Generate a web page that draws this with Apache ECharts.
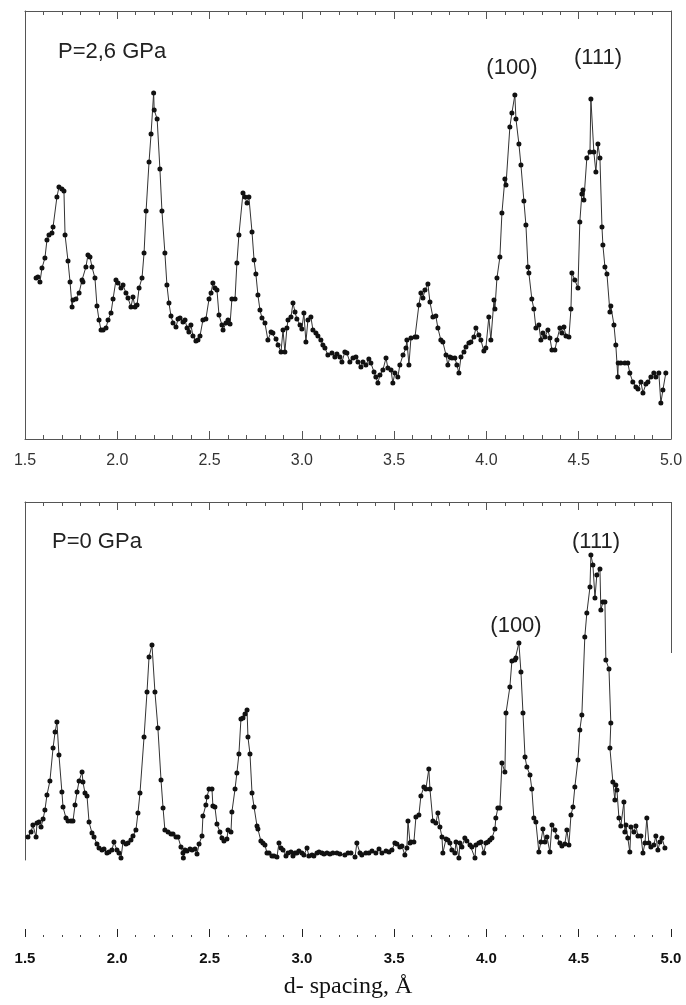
<!DOCTYPE html>
<html>
<head>
<meta charset="utf-8">
<script src="https://cdn.jsdelivr.net/npm/echarts@6/dist/echarts.min.js"></script>
<style>
html,body{margin:0;padding:0;background:#fff;}
#chart{width:686px;height:1005px;}
</style>
</head>
<body>
<div id="chart"></div>
<script>
// d-spacing (Å) and intensity (arb. units) for the two panels
var topPanel = [[1.560,161],[1.570,162],[1.581,157],[1.592,171],[1.608,181],[1.619,199],[1.630,204],[1.646,206],[1.652,212],[1.673,242],[1.684,252],[1.700,250],[1.711,248],[1.717,204],[1.733,178],[1.744,157],[1.755,132],[1.760,139],[1.776,140],[1.793,146],[1.809,159],[1.814,157],[1.830,172],[1.841,184],[1.852,182],[1.863,172],[1.879,161],[1.890,133],[1.901,119],[1.912,109],[1.923,109],[1.939,111],[1.950,119],[1.966,126],[1.977,140],[1.993,159],[2.004,156],[2.020,151],[2.031,154],[2.047,146],[2.058,141],[2.074,132],[2.085,142],[2.096,132],[2.107,134],[2.118,151],[2.134,161],[2.145,186],[2.156,228],[2.172,277],[2.183,305],[2.197,346],[2.200,329],[2.216,320],[2.231,270],[2.242,228],[2.258,186],[2.269,154],[2.280,136],[2.291,123],[2.302,116],[2.318,112],[2.329,120],[2.340,121],[2.356,117],[2.367,119],[2.378,111],[2.388,107],[2.399,114],[2.410,103],[2.426,98],[2.437,99],[2.448,103],[2.464,119],[2.480,120],[2.497,140],[2.508,146],[2.518,156],[2.529,151],[2.540,149],[2.551,124],[2.567,114],[2.573,109],[2.589,116],[2.600,119],[2.611,115],[2.621,140],[2.638,140],[2.648,176],[2.659,204],[2.681,246],[2.692,242],[2.703,236],[2.713,242],[2.730,207],[2.741,179],[2.751,165],[2.762,144],[2.773,129],[2.784,121],[2.800,116],[2.816,99],[2.833,107],[2.843,106],[2.860,100],[2.871,94],[2.887,87],[2.898,109],[2.908,87],[2.919,111],[2.925,119],[2.941,122],[2.952,136],[2.963,127],[2.973,120],[2.990,114],[3.000,110],[3.011,126],[3.022,97],[3.033,119],[3.049,122],[3.060,109],[3.076,106],[3.087,103],[3.103,99],[3.114,94],[3.125,91],[3.141,84],[3.163,86],[3.179,82],[3.190,85],[3.206,82],[3.217,77],[3.233,87],[3.244,86],[3.260,77],[3.277,81],[3.293,82],[3.304,77],[3.320,72],[3.331,77],[3.347,74],[3.363,80],[3.374,76],[3.391,67],[3.401,62],[3.412,56],[3.423,64],[3.439,69],[3.456,81],[3.466,71],[3.483,69],[3.493,56],[3.504,66],[3.520,62],[3.531,74],[3.548,84],[3.564,91],[3.569,99],[3.580,74],[3.591,101],[3.613,102],[3.623,102],[3.634,134],[3.645,146],[3.656,141],[3.667,149],[3.683,155],[3.694,137],[3.710,122],[3.726,123],[3.737,111],[3.753,99],[3.764,97],[3.781,84],[3.791,74],[3.802,82],[3.813,81],[3.829,81],[3.840,74],[3.851,66],[3.862,82],[3.878,87],[3.889,92],[3.905,96],[3.916,97],[3.932,102],[3.943,111],[3.959,104],[3.970,99],[3.986,88],[3.997,91],[4.013,122],[4.024,99],[4.041,139],[4.046,130],[4.057,161],[4.073,182],[4.084,226],[4.100,260],[4.106,254],[4.127,312],[4.138,326],[4.154,344],[4.160,320],[4.176,295],[4.187,274],[4.203,238],[4.214,214],[4.225,172],[4.230,166],[4.246,140],[4.257,130],[4.268,111],[4.284,114],[4.295,99],[4.306,106],[4.317,102],[4.333,109],[4.344,101],[4.355,89],[4.371,89],[4.382,99],[4.398,111],[4.409,106],[4.420,112],[4.431,103],[4.447,102],[4.458,130],[4.463,166],[4.479,159],[4.496,151],[4.506,217],[4.517,245],[4.523,249],[4.528,239],[4.544,281],[4.561,287],[4.566,340],[4.582,287],[4.593,267],[4.604,295],[4.615,281],[4.626,212],[4.631,194],[4.642,172],[4.653,165],[4.669,127],[4.674,133],[4.691,114],[4.701,94],[4.712,62],[4.714,76],[4.728,76],[4.750,76],[4.766,76],[4.777,66],[4.793,57],[4.810,52],[4.821,50],[4.837,57],[4.848,46],[4.864,55],[4.875,57],[4.891,62],[4.907,66],[4.918,62],[4.934,66],[4.945,36],[4.956,49],[4.972,66]];

var bottomPanel = [[1.516,23],[1.533,28],[1.543,35],[1.560,23],[1.565,37],[1.576,38],[1.587,33],[1.598,41],[1.608,50],[1.619,65],[1.635,79],[1.652,112],[1.663,128],[1.673,138],[1.684,105],[1.700,68],[1.706,53],[1.722,42],[1.733,39],[1.749,39],[1.760,39],[1.771,55],[1.782,68],[1.793,79],[1.809,88],[1.814,78],[1.825,67],[1.836,64],[1.847,38],[1.863,27],[1.874,23],[1.890,16],[1.901,12],[1.917,10],[1.928,11],[1.944,7],[1.955,8],[1.971,10],[1.982,18],[1.998,10],[2.009,7],[2.020,2],[2.031,18],[2.047,16],[2.058,17],[2.074,20],[2.085,24],[2.101,30],[2.112,47],[2.123,67],[2.145,123],[2.161,168],[2.172,203],[2.188,215],[2.204,168],[2.220,132],[2.237,80],[2.248,52],[2.258,30],[2.275,28],[2.291,26],[2.302,26],[2.318,23],[2.329,23],[2.345,13],[2.356,7],[2.358,2],[2.367,10],[2.378,9],[2.394,11],[2.405,10],[2.421,11],[2.432,6],[2.443,16],[2.459,24],[2.464,44],[2.480,55],[2.486,63],[2.497,71],[2.513,71],[2.518,54],[2.529,53],[2.540,36],[2.556,28],[2.567,22],[2.578,19],[2.594,21],[2.600,30],[2.616,28],[2.621,48],[2.638,71],[2.648,87],[2.659,106],[2.670,141],[2.681,142],[2.692,146],[2.703,150],[2.708,123],[2.719,106],[2.730,67],[2.741,53],[2.757,34],[2.762,31],[2.778,19],[2.789,17],[2.800,15],[2.811,7],[2.822,7],[2.838,4],[2.849,4],[2.865,3],[2.876,17],[2.887,12],[2.898,10],[2.914,4],[2.925,7],[2.941,8],[2.952,4],[2.963,7],[2.973,7],[2.984,9],[3.000,7],[3.011,5],[3.028,12],[3.038,4],[3.055,5],[3.065,4],[3.082,7],[3.093,8],[3.109,7],[3.120,6],[3.136,7],[3.152,6],[3.168,7],[3.190,7],[3.206,6],[3.233,5],[3.250,7],[3.266,7],[3.288,3],[3.298,17],[3.315,7],[3.325,5],[3.347,7],[3.363,7],[3.380,9],[3.401,7],[3.418,11],[3.434,7],[3.456,9],[3.472,8],[3.488,10],[3.504,17],[3.515,16],[3.531,13],[3.542,14],[3.558,5],[3.569,12],[3.575,39],[3.586,17],[3.591,18],[3.607,18],[3.618,43],[3.634,45],[3.645,64],[3.661,73],[3.672,71],[3.688,91],[3.694,71],[3.710,39],[3.726,37],[3.737,47],[3.748,33],[3.759,23],[3.764,7],[3.781,21],[3.791,20],[3.802,17],[3.813,10],[3.829,7],[3.835,18],[3.851,2],[3.856,17],[3.867,13],[3.883,22],[3.894,19],[3.911,15],[3.921,13],[3.938,2],[3.943,15],[3.959,17],[3.970,18],[3.986,7],[3.997,17],[4.008,18],[4.019,20],[4.030,22],[4.046,31],[4.051,42],[4.062,52],[4.073,52],[4.084,97],[4.100,88],[4.106,147],[4.127,173],[4.138,199],[4.154,200],[4.160,202],[4.176,217],[4.187,188],[4.198,147],[4.209,103],[4.219,93],[4.236,85],[4.246,71],[4.257,42],[4.268,38],[4.284,8],[4.295,18],[4.306,31],[4.317,18],[4.328,23],[4.344,8],[4.355,35],[4.371,30],[4.382,23],[4.398,17],[4.409,14],[4.425,16],[4.436,30],[4.447,15],[4.458,45],[4.469,53],[4.479,73],[4.496,100],[4.506,130],[4.517,145],[4.533,223],[4.544,247],[4.561,273],[4.566,305],[4.577,295],[4.588,262],[4.598,285],[4.615,291],[4.620,250],[4.631,258],[4.642,258],[4.647,200],[4.664,191],[4.674,137],[4.669,112],[4.685,78],[4.696,60],[4.701,75],[4.707,70],[4.718,42],[4.728,34],[4.745,58],[4.750,28],[4.756,35],[4.766,22],[4.777,8],[4.783,33],[4.799,28],[4.810,34],[4.821,24],[4.837,24],[4.848,7],[4.859,17],[4.869,42],[4.880,17],[4.891,13],[4.907,15],[4.918,24],[4.929,10],[4.940,18],[4.951,22],[4.967,12]];

var xTickLabels = ['1.5','2.0','2.5','3.0','3.5','4.0','4.5','5.0'];
var xTitle = 'd- spacing, \u00C5';
var topLabels = ['P=2,6 GPa', '(100)', '(111)'];
var bottomLabels = ['P=0 GPa', '(100)', '(111)'];

var chart = echarts.init(document.getElementById('chart'), null, {renderer: 'canvas'});
var frame = '#555';
var labelFmt = function (v) {
  var idx = Math.round((v - 1.5) / 0.5);
  return xTickLabels[idx] !== undefined ? xTickLabels[idx] : '';
};
function xBase(grid, pos) {
  return {
    type: 'value', gridIndex: grid, position: pos, min: 1.5, max: 5.0, interval: 0.5,
    axisLine: {show: true, onZero: false, lineStyle: {color: frame, width: 1}},
    axisTick: {show: true, inside: true, length: 8, lineStyle: {color: frame}},
    minorTick: {show: true, splitNumber: 5, length: 4, lineStyle: {color: frame}},
    axisLabel: {show: false},
    splitLine: {show: false}, minorSplitLine: {show: false}
  };
}
function yBase(grid, pos, max, showLine) {
  return {
    type: 'value', gridIndex: grid, position: pos, min: 0, max: max,
    axisLine: {show: showLine, onZero: false, lineStyle: {color: frame, width: 1}},
    axisTick: {show: false}, axisLabel: {show: false}, splitLine: {show: false}
  };
}
var x0 = xBase(0, 'bottom');
x0.axisLabel = {show: true, formatter: labelFmt, fontFamily: 'Liberation Sans, Arial, sans-serif', fontSize: 16, color: '#333', margin: 14};
var x1 = xBase(0, 'top');
var x2 = xBase(1, 'top');
var x3 = xBase(2, 'bottom');
x3.axisLine = {show: false, onZero: false};
x3.axisTick = {show: true, inside: true, length: 8, lineStyle: {color: '#222'}};
x3.minorTick = {show: true, splitNumber: 5, length: 2, lineStyle: {color: '#444'}};
x3.axisLabel = {show: true, formatter: labelFmt, fontFamily: 'Liberation Sans, Arial, sans-serif', fontSize: 15, fontWeight: 'bold', color: '#111', margin: 14};
x3.name = xTitle;
x3.nameLocation = 'middle';
x3.nameGap = 38;
x3.nameTextStyle = {fontFamily: 'Liberation Serif, Times New Roman, serif', fontSize: 24, color: '#111'};

var lineStyle = {color: '#333', width: 1};
var itemStyle = {color: '#111'};
function txt(t, x, y, align) {
  return {type: 'text', x: x, y: y, z: 10, style: {text: t, x: 0, y: 0, fill: '#222',
    font: '22px "Liberation Sans", Arial, sans-serif', textAlign: align, align: align,
    textVerticalAlign: 'middle', verticalAlign: 'middle'}};
}

chart.setOption({
  backgroundColor: '#fff',
  animation: false,
  grid: [
    {left: 25, right: 15, top: 11, height: 428},
    {left: 25, right: 15, top: 502, height: 358},
    {left: 25, right: 15, top: 917, height: 20}
  ],
  xAxis: [x0, x1, x2, x3],
  yAxis: [yBase(0, 'left', 428, true), yBase(0, 'right', 428, true), yBase(1, 'left', 358, true), yBase(2, 'left', 1, false)],
  series: [
    {type: 'line', xAxisIndex: 0, yAxisIndex: 0, data: topPanel, symbol: 'circle', symbolSize: 5, showAllSymbol: true, lineStyle: lineStyle, itemStyle: itemStyle},
    {type: 'line', xAxisIndex: 2, yAxisIndex: 2, data: bottomPanel, symbol: 'circle', symbolSize: 5, showAllSymbol: true, lineStyle: lineStyle, itemStyle: itemStyle}
  ],
  graphic: [
    txt(topLabels[0], 58, 52, 'left'),
    txt(topLabels[1], 512, 68, 'center'),
    txt(topLabels[2], 598, 58, 'center'),
    txt(bottomLabels[0], 52, 542, 'left'),
    txt(bottomLabels[1], 516, 626, 'center'),
    txt(bottomLabels[2], 596, 542, 'center'),
    {type: 'line', shape: {x1: 671.5, y1: 502, x2: 671.5, y2: 653}, style: {stroke: frame, lineWidth: 1}}
  ]
});
</script>
</body>
</html>
